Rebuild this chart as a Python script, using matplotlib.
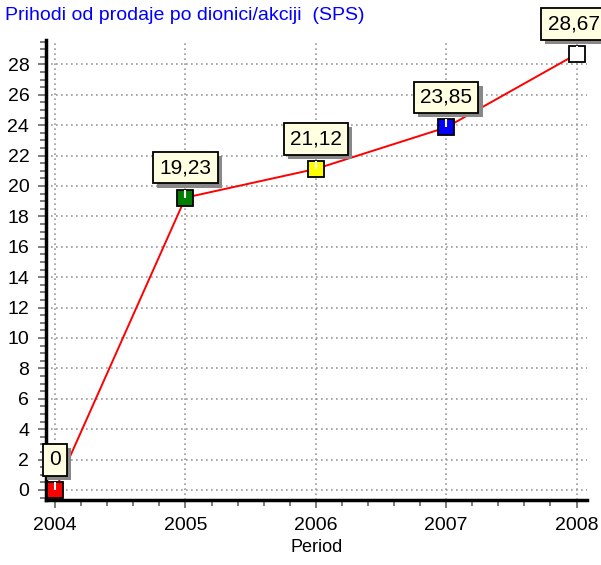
import matplotlib.pyplot as plt
import matplotlib.patheffects as pe
from matplotlib.ticker import MultipleLocator

years = [2004, 2005, 2006, 2007, 2008]
sps = [0, 19.23, 21.12, 23.85, 28.67]
labels = ['0', '19,23', '21,12', '23,85', '28,67']
colors = ['#ff0000', '#007f00', '#ffff00', '#0000ff', '#ffffff']

plt.rcParams['font.family'] = 'Liberation Sans'

W, H = 601, 565
fig = plt.figure(figsize=(W / 100, H / 100), dpi=100)
ax = fig.add_axes([46 / W, (H - 500) / H, (587 - 46) / W, (500 - 40) / H])

ax.plot(years, sps, color='red', lw=1.4, zorder=3)
for x, y, c in zip(years, sps, colors):
    ax.plot(x, y, marker='s', ms=11, mfc=c, mec='black', mew=1.3, zorder=4, clip_on=False)
    # small white tick inside each marker
    ax.plot(x, y, marker=[(0, 0), (0, 1)], ms=11, mec='white', mew=1.5, zorder=5, clip_on=False)

for i, (x, y, t) in enumerate(zip(years, sps, labels)):
    dx = -3 if i == len(years) - 1 else 0
    a = ax.annotate(t, (x, y), xytext=(dx, 30), textcoords='offset pixels',
                    ha='center', va='center', fontsize=15, zorder=6,
                    bbox=dict(boxstyle='square,pad=0.3', fc='#ffffe1', ec='black', lw=1.3),
                    annotation_clip=False)
    a.get_bbox_patch().set_path_effects([
        pe.SimplePatchShadow(offset=(3, -3), shadow_rgbFace='#888888', alpha=1),
        pe.Normal()])

ax.set_xlim(2003.93, 2008.08)
ax.set_ylim(-0.66, 29.6)
ax.xaxis.set_major_locator(MultipleLocator(1))
ax.xaxis.set_minor_locator(MultipleLocator(0.2))
ax.yaxis.set_major_locator(MultipleLocator(2))
ax.yaxis.set_minor_locator(MultipleLocator(0.5))
ax.set_xticks(years)
ax.set_xticklabels([str(y) for y in years])

ax.grid(True, which='major', ls=(0, (1, 2)), color='#999999', lw=1.2)
for s in ['top', 'right']:
    ax.spines[s].set_visible(False)
for s in ['left', 'bottom']:
    ax.spines[s].set_linewidth(2.5)

ax.tick_params(which='major', length=6, width=1.2, color='#666666', labelsize=14, pad=6)
ax.tick_params(which='minor', length=4, width=1.2, color='#666666')

ax.set_xlabel('Period', fontsize=13)
fig.text(5 / W, 1 - 15 / H, 'Prihodi od prodaje po dionici/akciji  (SPS)',
         color='#0000ff', fontsize=14, va='center')

fig.savefig('out.png', dpi=100)
